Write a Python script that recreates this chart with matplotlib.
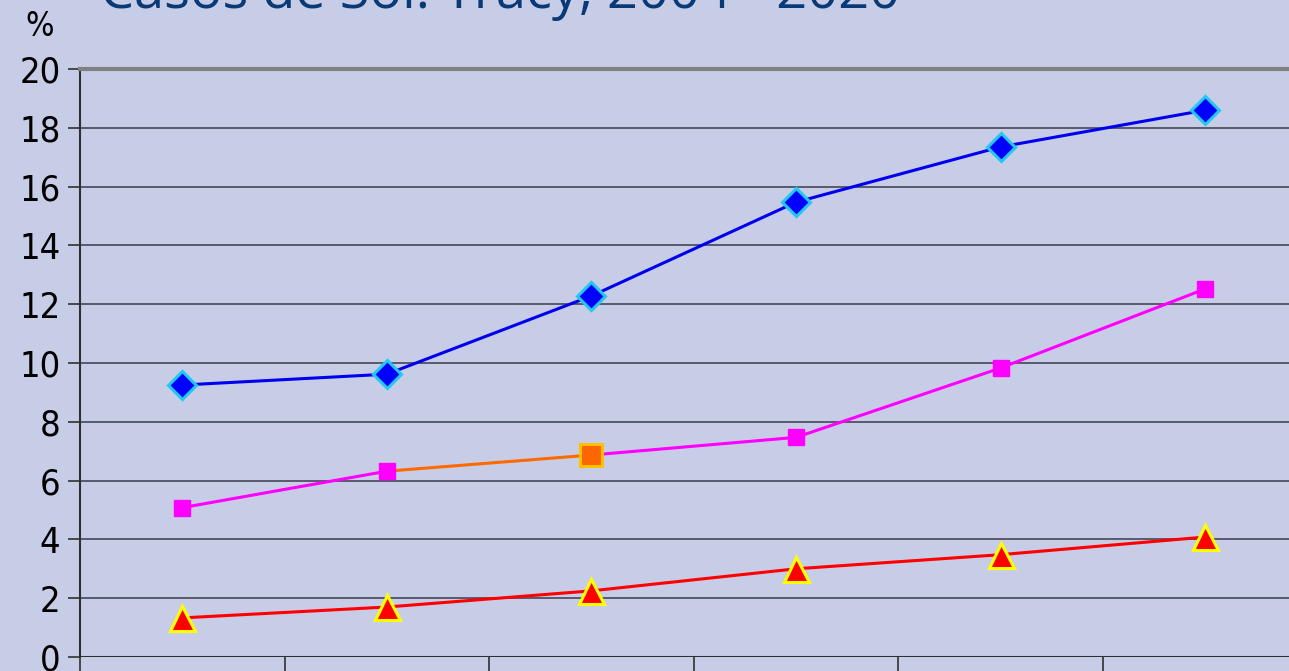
import matplotlib.pyplot as plt

years = ['2004', '2007', '2010', '2013', '2016', '2020']
blue = [9.25, 9.62, 12.28, 15.47, 17.35, 18.6]
pink = [5.08, 6.32, 6.87, 7.47, 9.83, 12.52]
red = [1.33, 1.70, 2.25, 3.0, 3.48, 4.08]
yticks = [0, 2, 4, 6, 8, 10, 12, 14, 16, 18, 20]
title = 'Casos de Sol: Tracy, 2004 - 2020'

bg = '#c8cde7'
fig = plt.figure(figsize=(12.89, 6.71), dpi=100, facecolor=bg)
ax = fig.add_axes([80 / 1289, 14 / 671, 1 - 80 / 1289, 588 / 671])
ax.set_facecolor(bg)

x = list(range(len(years)))

ax.plot(x, blue, color='#0000ee', lw=2.2, marker='D', ms=14,
        mfc='#0000ff', mec='#22c8f0', mew=2.2, zorder=5)

ax.plot(x, red, color='#ff0000', lw=2.2, marker='^', ms=18,
        mfc='#ff0000', mec='#ffff00', mew=2.2, zorder=5)

# pink line, with orange segment into the third point
ax.plot(x[:2], pink[:2], color='#ff00ff', lw=2.2, zorder=4)
ax.plot(x[1:3], pink[1:3], color='#ff6a00', lw=2.2, zorder=4)
ax.plot(x[2:], pink[2:], color='#ff00ff', lw=2.2, zorder=4)
ax.plot([x[i] for i in (0, 1, 3, 4, 5)], [pink[i] for i in (0, 1, 3, 4, 5)],
        ls='none', marker='s', ms=12, mfc='#ff00ff', mec='#ff00ff', zorder=5)
ax.plot([x[2]], [pink[2]], ls='none', marker='s', ms=16,
        mfc='#ff6600', mec='#ffc000', mew=2.2, zorder=6)

ax.set_yticks(yticks)
ax.set_xticks([i - 0.5 for i in range(6)])
ax.set_xticklabels([])
ax.set_xlim(-0.5, 5.41)
ax.set_ylim(0, 20)
ax.grid(axis='y', color='#3a3a48', lw=1.1)
ax.set_axisbelow(True)

for s in ['right', 'bottom']:
    ax.spines[s].set_visible(False)
ax.spines['top'].set_color('#808080')
ax.spines['top'].set_linewidth(3)
ax.spines['left'].set_color('#303030')
ax.spines['left'].set_linewidth(1.5)
ax.axhline(0, color='#303030', lw=1.5, zorder=3)

ax.tick_params(axis='y', length=9, width=1.2, color='#303030', pad=5,
               labelsize=26)
ax.tick_params(axis='x', length=20, width=1.2, color='#303030', direction='out')
for lab in ax.get_yticklabels():
    lab.set_family(['DejaVu Sans'])
    lab.set_stretch('condensed')

fig.text(40 / 1289, 1 - 26 / 671, '%', fontsize=24, ha='center', va='center',
         family=['DejaVu Sans'], stretch='condensed')
fig.text(100 / 1289, 1 - 8 / 671, title, fontsize=39, color='#0a3a75',
         ha='left', va='baseline', family=['Open Sans', 'DejaVu Sans'])

fig.savefig('out.png', dpi=100, facecolor=bg)
